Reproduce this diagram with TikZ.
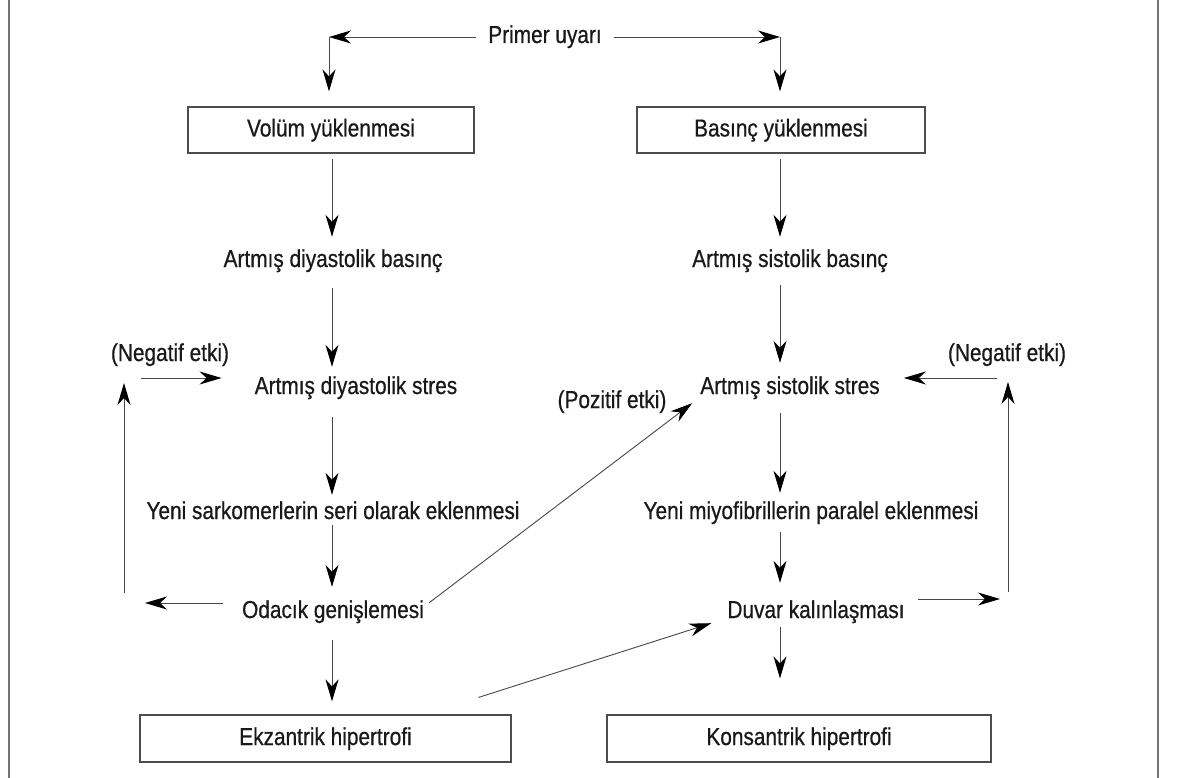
\documentclass[tikz,border=0pt]{standalone}
\usepackage{fontspec}
\setmainfont{Liberation Sans}[FakeStretch=0.85, FakeBold=0.6]
\usetikzlibrary{arrows.meta,calc}
\begin{document}
\begin{tikzpicture}[x=1pt,y=-1pt,
  font=\fontsize{24.5}{28}\selectfont,
  txt/.style={inner sep=0pt, text height=16pt, text depth=5pt, anchor=base, text=black!90},
  box/.style={draw=black!70, line width=1.2pt, inner sep=0pt, text height=16pt, text depth=3pt, minimum height=46pt, text=black!90},
  arr/.style={draw=black!72, line width=0.9pt, -{Stealth[length=22pt, width=13pt, inset=7pt, color=black]}},
  frame/.style={draw=black!55, line width=1.5pt}]
\useasboundingbox (0,0) rectangle (1177,778);
\fill[white] (0,0) rectangle (1177,778);
% side frame lines
\coordinate (fl1) at (9,0); \coordinate (fl2) at (9,778);
\coordinate (fr1) at (1158,0); \coordinate (fr2) at (1158,778);
\draw[frame] (fl1) -- (fl2);
\draw[frame] (fr1) -- (fr2);
% nodes
\node[txt] (P) at (545,43) {Primer uyarı};
\node[box, minimum width=286pt] (vol) at (331,130) {Volüm yüklenmesi};
\node[box, minimum width=288pt] (bas) at (781,130) {Basınç yüklenmesi};
\node[txt] (dbas) at (333,267) {Artmış diyastolik basınç};
\node[txt] (sbas) at (790,267) {Artmış sistolik basınç};
\node[txt] (negL) at (170,361) {(Negatif etki)};
\node[txt] (dstr) at (356,394) {Artmış diyastolik stres};
\node[txt] (sstr) at (790,394) {Artmış sistolik stres};
\node[txt] (poz) at (612,408) {(Pozitif etki)};
\node[txt] (negR) at (1007,361) {(Negatif etki)};
\node[txt] (yeni1) at (333,519) {Yeni sarkomerlerin seri olarak eklenmesi};
\node[txt] (yeni2) at (811,519) {Yeni miyofibrillerin paralel eklenmesi};
\node[txt] (odacik) at (333,618) {Odacık genişlemesi};
\node[txt] (duvar) at (816,618) {Duvar kalınlaşması};
\node[box, minimum width=371pt, minimum height=47pt] (ekz) at (325.5,738.5) {Ekzantrik hipertrofi};
\node[box, minimum width=384pt, minimum height=47pt] (kons) at (799,738.5) {Konsantrik hipertrofi};
% helper coordinates
\coordinate (cL) at (329,37);
\coordinate (cR) at (780,37);
\coordinate (colL) at (332,0);
\coordinate (colR) at (780,0);
\coordinate (lb) at (124,603);
\coordinate (lt) at (124,378);
\coordinate (rb) at (1008,599);
\coordinate (rt) at (1008,378);
% primer branches
\draw[arr, shorten <=12pt] (P.west |- cL) -- (cL);
\draw[arr, shorten >=15pt] (cL) -- (cL |- vol.north);
\draw[arr, shorten <=12pt] (P.east |- cR) -- (cR);
\draw[arr, shorten >=15pt] (cR) -- (cR |- bas.north);
% left column
\draw[arr, shorten <=5pt, shorten >=14pt] (vol.south -| colL) -- (dbas.north -| colL);
\draw[arr, shorten <=16pt, shorten >=11pt] (dbas.south -| colL) -- (dstr.north -| colL);
\draw[arr, shorten <=18pt, shorten >=8pt] (dstr.south -| colL) -- (yeni1.north -| colL);
\draw[arr, shorten <=1pt, shorten >=15pt] (yeni1.south -| colL) -- (odacik.north -| colL);
\draw[arr, shorten <=17pt, shorten >=13pt] (odacik.south -| colL) -- (ekz.north -| colL);
% right column
\draw[arr, shorten <=5pt, shorten >=14pt] (bas.south -| colR) -- (sbas.north -| colR);
\draw[arr, shorten <=13pt, shorten >=15pt] (sbas.south -| colR) -- (sstr.north -| colR);
\draw[arr, shorten <=14pt, shorten >=10pt] (sstr.south -| colR) -- (yeni2.north -| colR);
\draw[arr, shorten <=8pt, shorten >=19pt] (yeni2.south -| colR) -- (duvar.north -| colR);
\draw[arr, shorten <=4pt, shorten >=36pt] (duvar.south -| colR) -- (kons.north -| colR);
% left negative loop
\draw[arr, shorten <=19pt, shorten >=21pt] (odacik.west |- lb) -- (lb);
\draw[arr, shorten <=10pt, shorten >=5pt] (lb) -- (lt);
\draw[arr, shorten <=17pt, shorten >=33pt] (lt) -- (dstr.west |- lt);
% right negative loop
\draw[arr, shorten <=13pt, shorten >=8pt] (duvar.east |- rb) -- (rb);
\draw[arr, shorten <=7pt, shorten >=4pt] (rb) -- (rt);
\draw[arr, shorten <=11pt, shorten >=24pt] (rt) -- (sstr.east |- rt);
% diagonals
\draw[arr] ($(odacik.north east)+(5,1)$) -- ($(sstr.south west)+(-8,4)$);
\draw[arr] ($(ekz.north east)+(-33,-17)$) -- ($(duvar.south west)+(-16,0)$);
\end{tikzpicture}
\end{document}
